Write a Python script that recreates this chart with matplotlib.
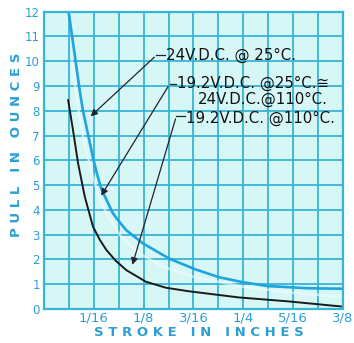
import numpy as np
import matplotlib
matplotlib.use('Agg')
import matplotlib.pyplot as plt
from matplotlib.ticker import MultipleLocator

# stroke in inches, pull in ounces
x_24v_25c = [0.031, 0.038, 0.045, 0.049, 0.055, 0.0616, 0.067, 0.072, 0.080, 0.0866, 0.095, 0.103,
             0.124, 0.1575, 0.190, 0.220, 0.250, 0.280, 0.330, 0.375]
y_24v_25c = [12.0, 10.4, 8.8, 8.0, 7.1, 6.1, 5.4, 4.85, 4.3, 3.86, 3.5, 3.19,
             2.65, 2.03, 1.6, 1.28, 1.08, 0.93, 0.84, 0.82]

x_mid = [0.035, 0.042, 0.050, 0.060, 0.070, 0.080, 0.095, 0.110, 0.125, 0.150, 0.1875, 0.250, 0.3125, 0.375]
y_mid = [10.0, 8.3, 6.8, 5.5, 4.45, 3.75, 3.0, 2.5, 2.15, 1.7, 1.3, 0.9, 0.65, 0.5]

x_19v_110c = [0.0304, 0.0366, 0.0429, 0.0513, 0.0616, 0.070, 0.0784, 0.090, 0.1034, 0.128, 0.153,
              0.181, 0.244, 0.306, 0.374]
y_19v_110c = [8.43, 7.2, 5.87, 4.53, 3.32, 2.8, 2.38, 1.95, 1.57, 1.10, 0.86,
              0.72, 0.47, 0.31, 0.1]

xtick_vals = [1/16, 1/8, 3/16, 1/4, 5/16, 3/8]
xtick_labels = ['1/16', '1/8', '3/16', '1/4', '5/16', '3/8']
ytick_vals = list(range(0, 13))

blue = '#2b9fd4'
grid_blue = '#38b4d6'
ink = '#222230'

fig = plt.figure(figsize=(3.54, 3.43), dpi=100)
ax = fig.add_axes([0.124, 0.099, 0.845, 0.867])
ax.set_facecolor('#d6f7f6')

ax.set_xlim(0, 0.375)
ax.set_ylim(0, 12)
ax.set_xticks(xtick_vals)
ax.set_xticklabels(xtick_labels)
ax.xaxis.set_minor_locator(MultipleLocator(1/32))
ax.set_yticks(ytick_vals)
ax.grid(which='both', color=grid_blue, lw=1.3)
ax.set_axisbelow(True)
ax.tick_params(which='both', length=0, colors=blue, pad=3)
ax.tick_params(axis='x', labelsize=9.5, pad=2)
ax.tick_params(axis='y', labelsize=8.5)
for s in ax.spines.values():
    s.set_color(grid_blue)
    s.set_linewidth(1.6)

ax.plot(x_mid, y_mid, color='#f4fdfd', lw=1.8, alpha=0.6)
ax.plot(x_24v_25c, y_24v_25c, color='#1ea4de', lw=1.9)
ax.plot(x_19v_110c, y_19v_110c, color='#1a1a1a', lw=1.4)

arrow = dict(arrowstyle='-|>', color=ink, lw=0.9, mutation_scale=10)
ax.annotate('', xy=(0.056, 7.7), xytext=(0.141, 10.24), arrowprops=arrow)
ax.annotate('', xy=(0.070, 4.48), xytext=(0.1575, 9.07), arrowprops=arrow)
ax.annotate('', xy=(0.110, 1.68), xytext=(0.166, 7.78), arrowprops=arrow)
ax.plot([0.141, 0.152], [10.24, 10.24], color=ink, lw=0.9)
ax.plot([0.1575, 0.166], [9.07, 9.07], color=ink, lw=0.9)
ax.plot([0.166, 0.177], [7.78, 7.78], color=ink, lw=0.9)

tkw = dict(fontsize=10.8, color='#111111', va='center')
ax.text(0.153, 10.24, '24V.D.C. @ 25°C.', ha='left', **tkw)
ax.text(0.167, 9.11, '19.2V.D.C. @25°C.≅', ha='left', **tkw)
ax.text(0.274, 8.47, '24V.D.C.@110°C.', ha='center', **tkw)
ax.text(0.178, 7.7, '19.2V.D.C. @110°C.', ha='left', **tkw)

fig.text(199 / 354, 1 - 333 / 343, 'S T R O K E   I N   I N C H E S', color=blue,
         fontsize=9.5, fontweight='bold', ha='center', va='center')
fig.text(17 / 354, 1 - 145 / 343, 'P U L L   I N   O U N C E S', color=blue,
         fontsize=9.5, fontweight='bold', ha='center', va='center', rotation=90)

fig.savefig('out.png', dpi=100, facecolor='white')
